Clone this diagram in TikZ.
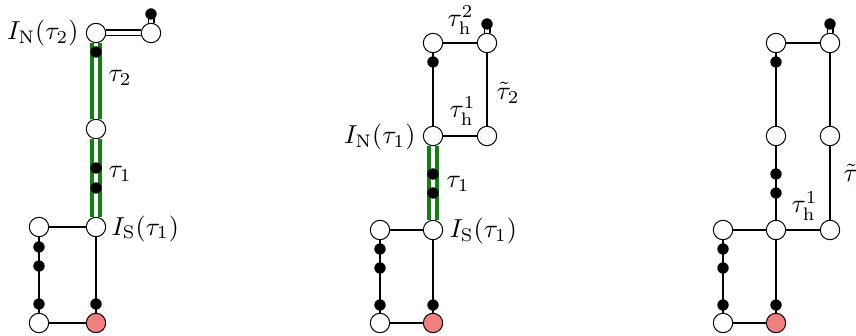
\documentclass[tikz,border=0pt]{standalone}
\usetikzlibrary{calc}
\pgfdeclarelayer{bg}
\pgfsetlayers{bg,main}
\definecolor{pinkc}{RGB}{240,128,128}
\definecolor{dgreen}{RGB}{16,128,16}
\begin{document}
\begin{tikzpicture}[x=0.5pt,y=-0.5pt,
  wn/.style={circle, draw, fill=white, minimum size=9.7pt, inner sep=0pt, line width=0.5pt},
  bn/.style={circle, fill=black, minimum size=5.7pt, inner sep=0pt},
  pn/.style={wn, fill=pinkc},
  ln/.style={line width=0.85pt},
  gd/.style={draw=dgreen, line width=1.8pt, double=white, double distance=2.1pt},
  bd/.style={draw=black, line width=0.75pt, double=white, double distance=2pt},
  lab/.style={inner sep=0pt, scale=1.3}]
\useasboundingbox (0,0) rectangle (856,336);
% ---------- panel 1 ----------
\node[wn] (a1) at (96,33) {};
\node[wn] (a2) at (151,33) {};
\node[bn] (a3) at (151,14) {};
\node[bn] (a4) at (96,52) {};
\node[wn] (a5) at (96,129) {};
\node[bn] (a6) at (96,168) {};
\node[bn] (a7) at (96,188) {};
\node[wn] (a8) at (96,227) {};
\node[wn] (a9) at (39,227) {};
\node[bn] (a10) at (39,247) {};
\node[bn] (a11) at (39,266) {};
\node[bn] (a12) at (39,304) {};
\node[bn] (a13) at (96,304) {};
\node[wn] (a14) at (39,323) {};
\node[pn] (a15) at (96,323) {};
\node[lab, anchor=base east] (la1) at (79,40) {$I_{\mathrm{N}}(\tau_2)$};
\node[lab, anchor=base west] (la2) at (108,82) {$\tau_2$};
\node[lab, anchor=base west] (la3) at (108,178) {$\tau_1$};
\node[lab, anchor=base west] (la4) at (111,235) {$I_{\mathrm{S}}(\tau_1)$};
\begin{pgfonlayer}{bg}
\draw[bd] (a1) -- (a2);
\draw[bd] (a2) -- (a3.center);
\draw[gd] (a1) -- (a5);
\draw[gd] (a5) -- (a8);
\draw[ln] (a8) -- (a9);
\draw[ln] (a9) -- (a14);
\draw[ln] (a8) -- (a15);
\draw[ln] (a14) -- (a15);
\end{pgfonlayer}
% ---------- panel 2 ----------
\node[wn] (b1) at (433,43) {};
\node[wn] (b2) at (487,43) {};
\node[bn] (b3) at (487,24) {};
\node[bn] (b4) at (433,62) {};
\node[wn] (b5) at (433,136) {};
\node[wn] (b6) at (487,136) {};
\node[bn] (b7) at (433,174) {};
\node[bn] (b8) at (433,193) {};
\node[wn] (b9) at (433,230) {};
\node[wn] (b10) at (380,230) {};
\node[bn] (b11) at (380,249) {};
\node[bn] (b12) at (380,268) {};
\node[bn] (b13) at (380,305) {};
\node[bn] (b14) at (433,305) {};
\node[wn] (b15) at (380,323) {};
\node[pn] (b16) at (433,323) {};
\node[lab, anchor=base west] (lb1) at (447,27) {$\tau_{\mathrm{h}}^2$};
\node[lab, anchor=base west] (lb2) at (496,100) {$\tilde\tau_2$};
\node[lab, anchor=base west] (lb3) at (449,118) {$\tau_{\mathrm{h}}^1$};
\node[lab, anchor=base east] (lb4) at (416,144) {$I_{\mathrm{N}}(\tau_1)$};
\node[lab, anchor=base west] (lb5) at (446,188) {$\tau_1$};
\node[lab, anchor=base west] (lb6) at (449,238) {$I_{\mathrm{S}}(\tau_1)$};
\begin{pgfonlayer}{bg}
\draw[ln] (b1) -- (b2);
\draw[bd] (b2) -- (b3.center);
\draw[ln] (b1) -- (b5);
\draw[ln] (b2) -- (b6);
\draw[ln] (b5) -- (b6);
\draw[gd] (b5) -- (b9);
\draw[ln] (b9) -- (b10);
\draw[ln] (b10) -- (b15);
\draw[ln] (b9) -- (b16);
\draw[ln] (b15) -- (b16);
\end{pgfonlayer}
% ---------- panel 3 ----------
\node[wn] (c1) at (776,43) {};
\node[wn] (c2) at (830,43) {};
\node[bn] (c3) at (830,24) {};
\node[bn] (c4) at (776,62) {};
\node[wn] (c5) at (776,136) {};
\node[wn] (c6) at (830,136) {};
\node[bn] (c7) at (776,174) {};
\node[bn] (c8) at (776,193) {};
\node[wn] (c9) at (776,230) {};
\node[wn] (c10) at (723,230) {};
\node[wn] (c11) at (830,230) {};
\node[bn] (c12) at (723,249) {};
\node[bn] (c13) at (723,268) {};
\node[bn] (c14) at (723,305) {};
\node[bn] (c15) at (776,305) {};
\node[wn] (c16) at (723,323) {};
\node[pn] (c17) at (776,323) {};
\node[lab, anchor=base west] (lc1) at (791,213) {$\tau_{\mathrm{h}}^1$};
\node[lab, anchor=base west] (lc2) at (843,182) {$\tilde\tau_2$};
\begin{pgfonlayer}{bg}
\draw[ln] (c1) -- (c2);
\draw[bd] (c2) -- (c3.center);
\draw[ln] (c1) -- (c5);
\draw[ln] (c2) -- (c6);
\draw[ln] (c5) -- (c9);
\draw[ln] (c6) -- (c11);
\draw[ln] (c10) -- (c9);
\draw[ln] (c9) -- (c11);
\draw[ln] (c10) -- (c16);
\draw[ln] (c9) -- (c17);
\draw[ln] (c16) -- (c17);
\end{pgfonlayer}
\end{tikzpicture}
\end{document}
